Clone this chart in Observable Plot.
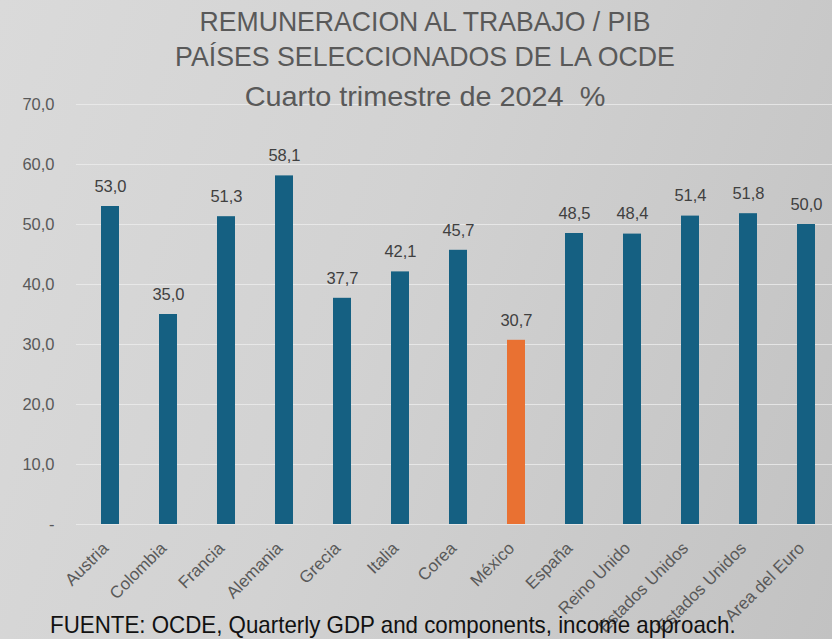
<!DOCTYPE html>
<html>
<head>
<meta charset="utf-8">
<script src="https://cdn.jsdelivr.net/npm/d3@7"></script>
<script src="https://cdn.jsdelivr.net/npm/@observablehq/plot@0.6"></script>
<style>
  html, body { margin: 0; padding: 0; overflow: hidden; }
  body { width: 832px; height: 639px; }
  #wrap {
    position: relative; width: 832px; height: 639px; overflow: hidden;
    background: linear-gradient(110deg, #dadada 0%, #d2d2d2 45%, #c2c2c2 100%);
  }
  .ttl {
    position: absolute; left: 0; width: 850px; text-align: center;
    font-family: "Liberation Sans", Arial, sans-serif;
    color: #595959; font-size: 28px; line-height: 1; white-space: nowrap;
    transform-origin: 425px 50%;
  }
  #caption {
    position: absolute; left: 50px; top: 613px;
    font-family: "Liberation Sans", Arial, sans-serif;
    color: #111; font-size: 24px; line-height: 1; white-space: nowrap;
    transform: scaleX(0.93); transform-origin: 0 50%;
  }
  #chart { position: absolute; left: 0; top: 0; }
</style>
</head>
<body>
<div id="wrap">
  <div id="chart"></div>
  <div class="ttl" style="top:8px; transform: scaleX(0.95)">REMUNERACION AL TRABAJO / PIB</div>
  <div class="ttl" style="top:43px; transform: scaleX(0.954)">PAÍSES SELECCIONADOS DE LA OCDE</div>
  <div class="ttl" style="top:83px; transform: scaleX(1.03)">Cuarto trimestre de 2024&nbsp; %</div>
  <div id="caption">FUENTE: OCDE, Quarterly GDP and components, income approach.</div>
</div>
<script>
const countries = ["Austria", "Colombia", "Francia", "Alemania", "Grecia", "Italia", "Corea", "México", "España", "Reino Unido", "Estados Unidos", "Estados Unidos", "Area del Euro"];
const values = [53.0, 35.0, 51.3, 58.1, 37.7, 42.1, 45.7, 30.7, 48.5, 48.4, 51.4, 51.8, 50.0];
const yTicks = [0, 10, 20, 30, 40, 50, 60, 70];
const highlight = "México";

const data = countries.map((c, i) => ({i, country: c, value: values[i]}));
const fmt = v => v.toFixed(1).replace(".", ",");
const blue = "#156082", orange = "#e97132";

const plot = Plot.plot({
  width: 832,
  height: 639,
  marginTop: 104,
  marginBottom: 115,
  marginLeft: 76,
  marginRight: 0,
  style: {background: "transparent", fontFamily: "'Liberation Sans', Arial, sans-serif"},
  x: {type: "band", domain: d3.range(countries.length), range: [76, 840], paddingInner: 0.69, paddingOuter: 0.345},
  y: {domain: [0, 70]},
  marks: [
    Plot.gridY(yTicks, {stroke: "#ececec", strokeOpacity: 0.8, strokeWidth: 1}),
    Plot.axisY(yTicks, {tickSize: 0, tickPadding: 22, fontSize: 16.5, fill: "#595959", tickFormat: v => v === 0 ? "-" : fmt(v), label: null, style: {letterSpacing: "0.6px"}}),
    Plot.axisX({tickSize: 0, tickPadding: 21, tickRotate: -45, fontSize: 17, fill: "#595959", tickFormat: i => countries[i], label: null, dx: -5, style: {letterSpacing: "0.7px"}}),
    Plot.barY(data, {filter: d => d.country !== highlight, x: "i", y: "value", fill: blue}),
    Plot.barY(data, {filter: d => d.country === highlight, x: "i", y: "value", fill: orange}),
    Plot.text(data, {x: "i", y: "value", text: d => fmt(d.value), dy: -20, fontSize: 16.5, fill: "#404040", style: {letterSpacing: "0.6px"}})
  ]
});
document.getElementById("chart").appendChild(plot);
</script>
</body>
</html>
